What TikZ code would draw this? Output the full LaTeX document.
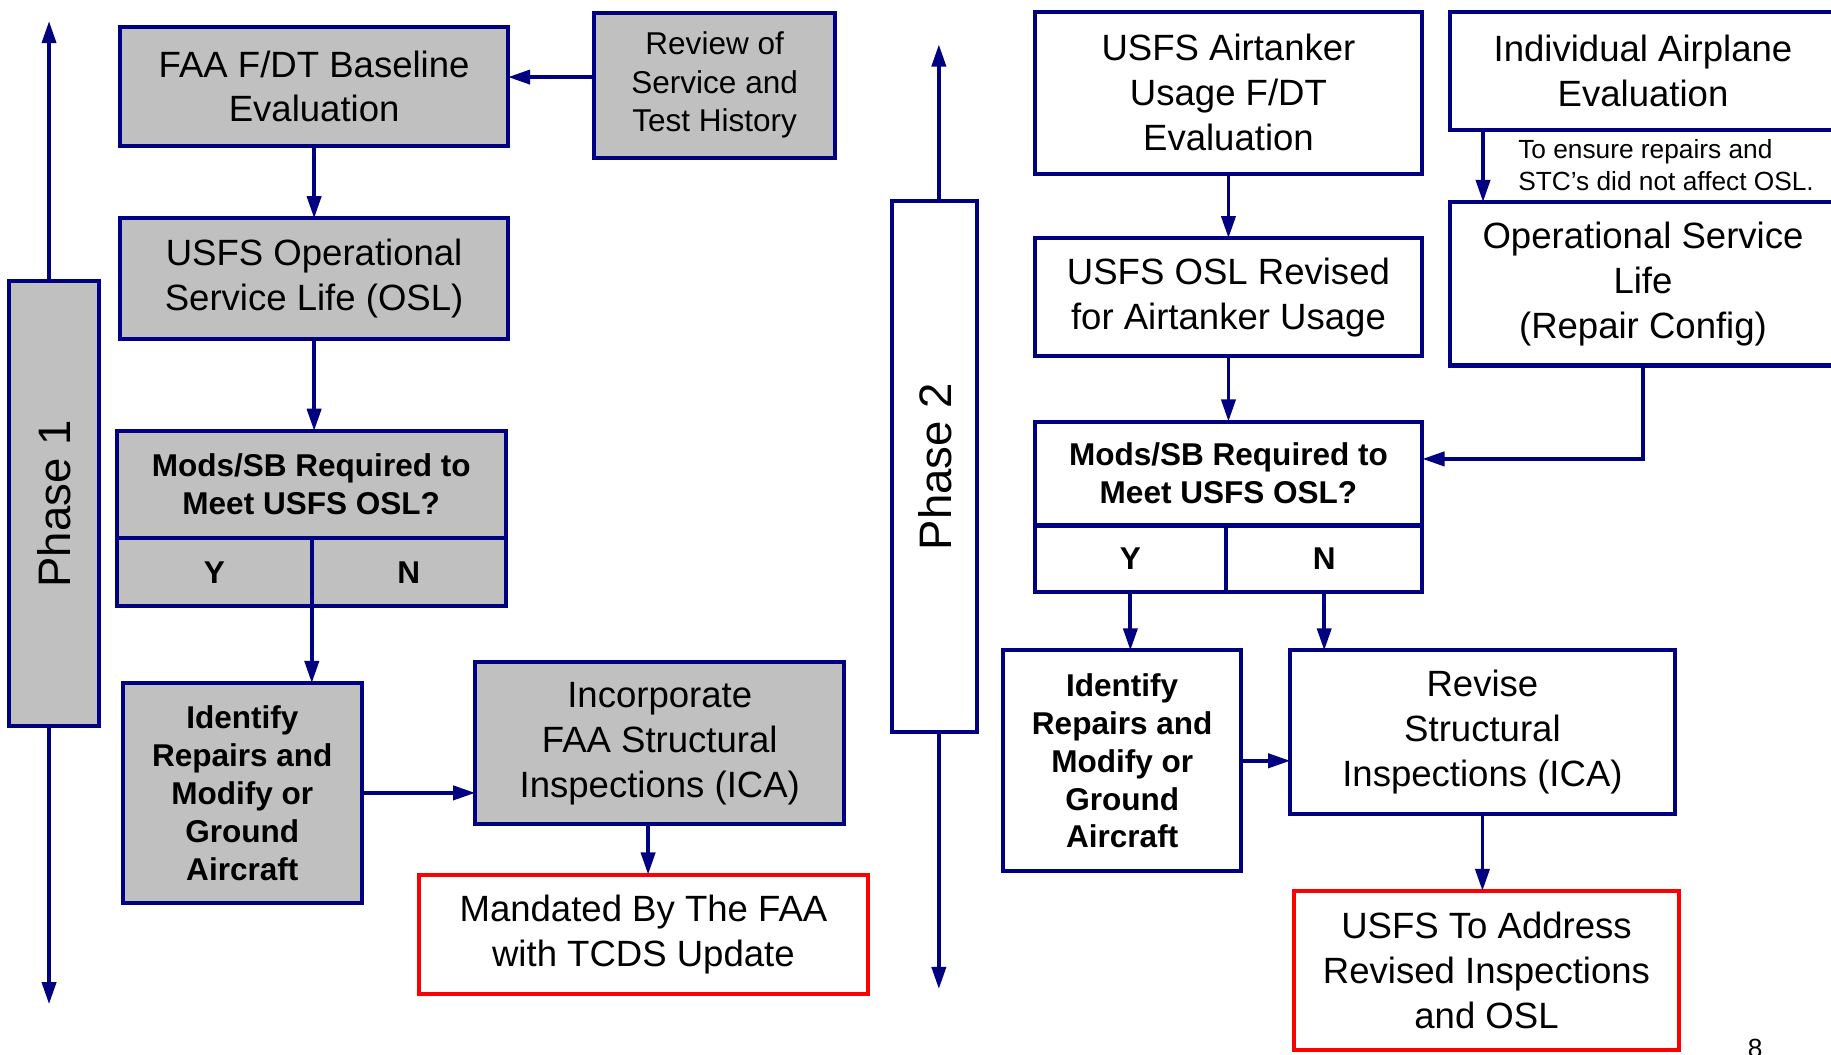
\documentclass[tikz,border=0pt]{standalone}
\usepackage{fontspec}
\setmainfont{Liberation Sans}
\usetikzlibrary{arrows.meta}
\definecolor{navyc}{RGB}{0,0,128}
\definecolor{grayf}{RGB}{192,192,192}
\definecolor{redc}{RGB}{255,0,0}
\tikzset{
  bx/.style={draw=navyc, line width=3.5pt, inner sep=0pt, outer sep=0pt, align=center, text=black},
  gbx/.style={bx, fill=grayf},
  wbx/.style={bx, fill=white},
  rbx/.style={bx, draw=redc, fill=white},
  big/.style={font=\fontsize{31.3}{38.5}\selectfont},
  mid/.style={font=\fontsize{27}{33}\selectfont},
  bld/.style={font=\bfseries\fontsize{27}{32.5}\selectfont},
  note/.style={font=\fontsize{22.5}{27}\selectfont, align=left, inner sep=0pt},
  phasetxt/.style={font=\fontsize{39}{45}\selectfont},
  arr/.style={draw=navyc, line width=3.3pt, -{Triangle[length=19pt,width=12pt]}},
}
\begin{document}
\begin{tikzpicture}[x=1pt,y=-1pt]
\useasboundingbox (0,0) rectangle (1568,903);
\clip (0,0) rectangle (1568,903);
% ---------------- Phase 1 ----------------
\node[gbx, phasetxt, minimum width=77pt, minimum height=381pt] (phase1) at (46.5,431.5) {\rotatebox{90}{Phase 1}};
\coordinate (p1up) at (42,18);
\coordinate (p1dn) at (42,860);
\node[gbx, big, minimum width=332pt, minimum height=102pt] (faa) at (269,74) {FAA F/DT Baseline\\Evaluation};
\node[gbx, mid, minimum width=206pt, minimum height=124pt] (review) at (612,73) {Review of\\Service and\\Test History};
\node[gbx, big, minimum width=332pt, minimum height=103pt] (osl) at (269,238.5) {USFS Operational\\Service Life (OSL)};
\node[gbx, bld, minimum width=333pt, minimum height=92pt] (mods1) at (266.5,415) {Mods/SB Required to\\Meet USFS OSL?};
\node[gbx, bld, minimum width=167pt, minimum height=58pt] (y1) at (183.5,490) {Y};
\node[gbx, bld, minimum width=166pt, minimum height=58pt] (n1) at (350,490) {N};
\node[gbx, bld, minimum width=205pt, minimum height=188pt] (ident1) at (207.5,679) {Identify\\Repairs and\\Modify or\\Ground\\Aircraft};
\node[gbx, big, minimum width=316pt, minimum height=139pt] (inc) at (565,636.5) {Incorporate\\FAA Structural\\Inspections (ICA)};
\node[rbx, big, minimum width=384pt, minimum height=102pt] (mand) at (551,800) {Mandated By The FAA\\with TCDS Update};
\draw[arr] (p1up |- phase1.north) -- (p1up);
\draw[arr] (p1dn |- phase1.south) -- (p1dn);
\draw[arr] ([yshift=7pt]review.west) -- ([yshift=7pt]review.west -| faa.east);
\draw[arr] (faa.south) -- (osl.north);
\draw[arr] (osl.south) -- (osl.south |- mods1.north);
\draw[arr] (n1.south west) -- (n1.south west |- ident1.north);
\draw[arr] (ident1.east) -- (ident1.east -| inc.west);
\draw[arr] ([xshift=-10pt]inc.south) -- ([xshift=-10pt]inc.south |- mand.north);
% ---------------- Phase 2 ----------------
\node[wbx, phasetxt, minimum width=73pt, minimum height=455pt] (phase2) at (800.5,399.5) {\rotatebox{90}{Phase 2}};
\coordinate (p2up) at (804,38);
\coordinate (p2dn) at (804,847);
\node[wbx, big, minimum width=332pt, minimum height=139pt] (air) at (1052,79.5) {USFS Airtanker\\Usage F/DT\\Evaluation};
\node[wbx, big, minimum width=330pt, minimum height=101pt] (indiv) at (1407,60.5) {Individual Airplane\\Evaluation};
\node[note, anchor=west] (notetxt) at (1300,141.5) {To ensure repairs and\\STC’s did not affect OSL.};
\node[wbx, big, minimum width=330pt, minimum height=140pt] (opsl) at (1407,243) {Operational Service\\Life\\(Repair Config)};
\node[wbx, big, minimum width=332pt, minimum height=101pt] (oslr) at (1052,254.5) {USFS OSL Revised\\for Airtanker Usage};
\node[wbx, bld, minimum width=332pt, minimum height=89pt] (mods2) at (1052,405.5) {Mods/SB Required to\\Meet USFS OSL?};
\node[wbx, bld, minimum width=164pt, minimum height=57pt] (y2) at (968,478.5) {Y};
\node[wbx, bld, minimum width=168pt, minimum height=57pt] (n2) at (1134,478.5) {N};
\node[wbx, bld, minimum width=204pt, minimum height=189pt] (ident2) at (961,651.5) {Identify\\Repairs and\\Modify or\\Ground\\Aircraft};
\node[wbx, big, minimum width=329pt, minimum height=140pt] (rev) at (1269.5,627) {Revise\\Structural\\Inspections (ICA)};
\node[rbx, big, minimum width=330pt, minimum height=136pt] (addr) at (1273,831) {USFS To Address\\Revised Inspections\\and OSL};
\draw[arr] (p2up |- phase2.north) -- (p2up);
\draw[arr] (p2dn |- phase2.south) -- (p2dn);
\draw[arr] (air.south) -- (oslr.north);
\draw[arr] (oslr.south) -- (mods2.north);
\draw[arr] ([xshift=28pt]indiv.south west) -- ([xshift=28pt]opsl.north west);
\draw[arr] (opsl.south) |- ([yshift=12.5pt]mods2.east);
\draw[arr] (y2.south) -- (y2.south |- ident2.north);
\draw[arr] (n2.south) -- (n2.south |- rev.north);
\draw[arr] (ident2.east) -- (ident2.east -| rev.west);
\draw[arr] (rev.south) -- (rev.south |- addr.north);
% page number
\node[font=\fontsize{22.5}{27}\selectfont, anchor=base, inner sep=0pt] (pagenum) at (1503,906) {8};
\end{tikzpicture}
\end{document}
